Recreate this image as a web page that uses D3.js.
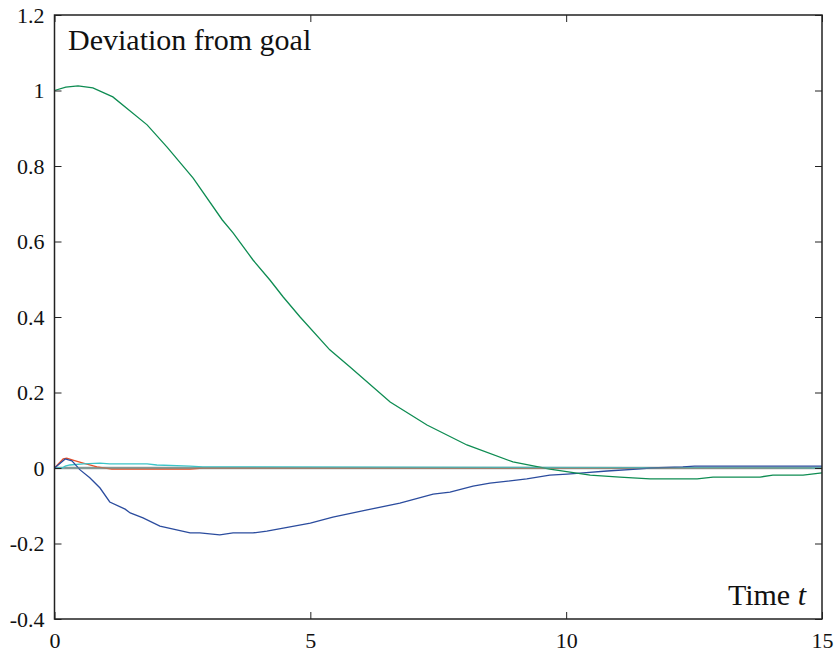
<!DOCTYPE html>
<html>
<head>
<meta charset="utf-8">
<script src="https://cdn.jsdelivr.net/npm/d3@7"></script>
<style>
	body { margin: 0; background: #fff; }
	svg text { font-family: "Liberation Serif", "DejaVu Serif", serif; fill: #111; }
</style>
</head>
<body>
<div id="chart"></div>
<script>

//////////////////////////////
// DATA
//////////////////////////////

const xTicks = [0, 5, 10, 15]
const yTicks = [-0.4, -0.2, 0, 0.2, 0.4, 0.6, 0.8, 1, 1.2]

const greenT = [0, 0.22, 0.46, 0.75, 1.14, 1.81, 2.2, 2.71, 3.28, 3.49, 3.88, 4.21, 4.47, 4.8, 5.38, 5.77, 6.56, 7.28, 8.06, 8.96, 9.68, 10.47, 11.05, 11.64, 12.56, 12.87, 13.79, 14.04, 14.63, 15]
const greenV = [1.0, 1.009, 1.012, 1.007, 0.983, 0.909, 0.85, 0.768, 0.657, 0.623, 0.551, 0.498, 0.453, 0.4, 0.313, 0.268, 0.175, 0.114, 0.061, 0.016, -0.003, -0.019, -0.024, -0.029, -0.029, -0.024, -0.024, -0.019, -0.019, -0.013]

const blueT = [0, 0.21, 0.34, 0.5, 0.69, 0.89, 1.08, 1.38, 1.48, 1.73, 2.06, 2.65, 2.84, 3.23, 3.49, 3.88, 4.15, 4.47, 5.0, 5.44, 6.11, 6.75, 7.4, 7.73, 8.18, 8.51, 9.23, 9.68, 10.02, 10.33, 10.8, 11.38, 11.64, 12.28, 12.51, 15]
const blueV = [0, 0.024, 0.019, -0.005, -0.026, -0.053, -0.09, -0.109, -0.119, -0.132, -0.154, -0.172, -0.172, -0.177, -0.172, -0.172, -0.167, -0.159, -0.146, -0.13, -0.111, -0.093, -0.069, -0.064, -0.048, -0.04, -0.029, -0.019, -0.016, -0.013, -0.008, -0.003, 0, 0.003, 0.005, 0.005]

const redT = [0, 0.17, 0.24, 0.36, 0.56, 0.83, 1.12, 2.65, 2.9, 15]
const redV = [0, 0.024, 0.026, 0.021, 0.013, 0.003, -0.003, -0.003, 0, 0]

const cyanT = [0, 0.15, 0.21, 0.3, 0.56, 0.89, 1.08, 1.81, 2.0, 2.65, 2.9, 15]
const cyanV = [0, 0, 0.005, 0.008, 0.011, 0.013, 0.011, 0.011, 0.008, 0.005, 0.003, 0]

const goalT = [0, 15]
const goalV = [0, 0]

//////////////////////////////
// CHART
//////////////////////////////

const width = 834
const height = 653
const padL = 54.5, padR = 822, padT = 15, padB = 619
const serif = '"Liberation Serif", "DejaVu Serif", serif'

const x = d3.scaleLinear().domain([0, 15]).range([padL, padR])
const y = d3.scaleLinear().domain([-0.4, 1.2]).range([padB, padT])

const fmt = (d) => String(+d.toFixed(1))

const svg = d3.select("#chart").append("svg").attr("width", width).attr("height", height)

const zip = (ts, vs) => ts.map((t, i) => [t, vs[i]])
const line = d3.line().x((d) => x(d[0])).y((d) => y(d[1]))

svg.append("clipPath").attr("id", "clip").append("rect")
	.attr("x", padL).attr("y", padT).attr("width", padR - padL).attr("height", padB - padT)

const plot = svg.append("g").attr("clip-path", "url(#clip)")

// goal line (gray, a bit thicker) under the others
plot.append("path").attr("d", line(zip(goalT, goalV)))
	.attr("fill", "none").attr("stroke", "#9a9a9a").attr("stroke-width", 2.4)

const series = [
	{ t: redT, v: redV, color: "#e8502a" },
	{ t: cyanT, v: cyanV, color: "#3cc4c8" },
	{ t: blueT, v: blueV, color: "#2b4c9e" },
	{ t: greenT, v: greenV, color: "#0e8c52" }
]

series.forEach((s) => {
	plot.append("path").attr("d", line(zip(s.t, s.v)))
		.attr("fill", "none").attr("stroke", s.color).attr("stroke-width", 1.3)
})

// zero line overlay in teal gray
plot.append("path").attr("d", line(zip([0.2, 14.8], goalV)))
	.attr("fill", "none").attr("stroke", "#6f9a92").attr("stroke-width", 1.2)

// axes with inward ticks, mirrored
const styleAxis = (g) => {
	g.attr("font-family", null).attr("font-size", null)
	g.select(".domain").remove()
	g.selectAll(".tick line").attr("stroke", "#222").attr("stroke-width", 1)
	g.selectAll("text").style("font-family", serif).style("font-size", "22px").attr("fill", "#111")
}

svg.append("g").attr("transform", "translate(" + padL + ",0)")
	.call(d3.axisLeft(y).tickValues(yTicks).tickFormat(fmt).tickSizeInner(-7).tickSizeOuter(0).tickPadding(10))
	.call(styleAxis)

svg.append("g").attr("transform", "translate(" + padR + ",0)")
	.call(d3.axisRight(y).tickValues(yTicks).tickFormat("").tickSizeInner(-7).tickSizeOuter(0))
	.call(styleAxis)

svg.append("g").attr("transform", "translate(0," + padB + ")")
	.call(d3.axisBottom(x).tickValues(xTicks).tickFormat(fmt).tickSizeInner(-7).tickSizeOuter(0).tickPadding(13))
	.call(styleAxis)

svg.append("g").attr("transform", "translate(0," + padT + ")")
	.call(d3.axisTop(x).tickValues(xTicks).tickFormat("").tickSizeInner(-7).tickSizeOuter(0))
	.call(styleAxis)

svg.append("rect")
	.attr("x", padL).attr("y", padT).attr("width", padR - padL).attr("height", padB - padT)
	.attr("fill", "none").attr("stroke", "#222").attr("stroke-width", 1.5)

// labels
svg.append("text").attr("x", 68).attr("y", 50).style("font-family", serif).style("font-size", "30px").text("Deviation from goal")

const tl = svg.append("text").attr("x", 806).attr("y", 605).attr("text-anchor", "end").style("font-family", serif).style("font-size", "30px")
tl.append("tspan").text("Time ")
tl.append("tspan").style("font-style", "italic").text("t")

</script>
</body>
</html>
